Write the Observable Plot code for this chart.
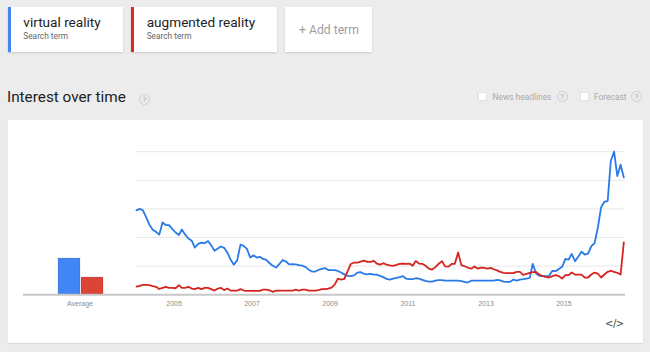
<!DOCTYPE html>
<html>
<head>
<meta charset="utf-8">
<script src="https://cdn.jsdelivr.net/npm/d3@7"></script>
<script src="https://cdn.jsdelivr.net/npm/@observablehq/plot@0.6"></script>
<style>
html,body{margin:0;padding:0;}
body{width:650px;height:352px;background:#ececec;position:relative;overflow:hidden;font-family:Roboto,Arial,sans-serif;}
.card{position:absolute;top:7px;height:45px;background:#fff;box-shadow:0 1px 2px rgba(0,0,0,.14);}
.strip{position:absolute;left:0;top:0;width:3px;height:100%;}
.term{position:absolute;font-size:13.6px;line-height:1;color:#222;white-space:nowrap;top:9.3px;}
.sub{position:absolute;font-size:8.3px;line-height:1;color:#666;white-space:nowrap;top:24.7px;}
.add{position:absolute;left:14px;top:17px;font-size:12.2px;line-height:1;color:#9e9e9e;white-space:nowrap;}
.title{position:absolute;left:7px;top:90px;font-size:15.3px;line-height:1;color:#222;white-space:nowrap;}
.help{position:absolute;width:9px;height:9px;border:1px solid #d0d0d0;border-radius:50%;font-size:6.5px;line-height:9px;text-align:center;color:#a0a0a0;font-family:Arial,sans-serif;}
.chk{position:absolute;width:9px;height:9px;background:#fff;border:1px solid #e2e2e2;box-sizing:border-box;}
.opt{position:absolute;font-size:8.4px;line-height:1;color:#aaa;white-space:nowrap;top:92.5px;}
.panel{position:absolute;left:8px;top:120px;width:635px;height:223px;background:#fff;box-shadow:0 1px 1px rgba(0,0,0,.08);}
.plotbox{position:absolute;top:132px;}
.embed{position:absolute;left:605px;top:319px;font-size:10px;line-height:1;color:#444;font-family:'DejaVu Sans',sans-serif;letter-spacing:-0.5px;}
</style>
</head>
<body>
<div class="card" style="left:8px;width:115px;"><div class="strip" style="background:#4285f4"></div><div class="term" style="left:15.3px">virtual reality</div><div class="sub" style="left:15.3px">Search term</div></div>
<div class="card" style="left:131px;width:146px;"><div class="strip" style="background:#db2b1f"></div><div class="term" style="left:15.7px">augmented reality</div><div class="sub" style="left:15.7px">Search term</div></div>
<div class="card" style="left:285px;width:87px;"><div class="add">+ Add term</div></div>

<div class="title">Interest over time</div>
<div class="help" style="left:139px;top:93.5px;">?</div>
<div class="chk" style="left:478px;top:91.5px;"></div>
<div class="opt" style="left:492.5px;">News headlines</div>
<div class="help" style="left:556.5px;top:91px;">?</div>
<div class="chk" style="left:579.5px;top:91.5px;"></div>
<div class="opt" style="left:594px;">Forecast</div>
<div class="help" style="left:631px;top:91px;">?</div>

<div class="panel"></div>
<div class="plotbox" id="avg" style="left:23px;"></div>
<div class="plotbox" id="trend" style="left:130px;"></div>
<div class="embed">&lt;/&gt;</div>

<script>
// ---- data ----
const terms = ["virtual reality", "augmented reality"];
const lineColors = ["#2a7ae6", "#d52420"];
const barColors = ["#4285f4", "#db4437"];
const startYear = 2004;            // first month: January 2004, monthly points
const virtualReality = [
  59, 60, 59, 54, 49, 45.5, 44, 42, 50.5, 48.7, 48.7, 46,
  43.5, 41.7, 45.6, 42, 39.3, 37.8, 33, 35.6, 36.4, 36, 37.5, 34.5,
  30.7, 32.3, 33.7, 32.8, 29.5, 24.5, 21, 24, 35, 34.2, 32, 26,
  27.5, 26, 26.5, 25, 24.3, 22, 20.3, 19, 21.5, 24.3, 23.2, 21.2,
  21.4, 21.2, 20.7, 20.3, 19.5, 17.5, 16.2, 16.2, 17.3, 18, 18.6, 17.2,
  17.2, 17.2, 16.6, 15.5, 14.2, 13.2, 13, 13.5, 15.5, 15.8, 14.6, 14.2,
  14.6, 14, 14, 13.2, 12.3, 11, 10.6, 11.2, 11.8, 12.3, 13, 11.2,
  10.9, 10.9, 11.5, 11.2, 10.4, 9.6, 9.2, 9.2, 9.8, 10.2, 10.2, 9.9,
  9.9, 9.9, 9.9, 9.9, 9.5, 9, 8.5, 9.8, 9.9, 9.9, 9.9, 9.9,
  9.9, 9.9, 9.9, 10.4, 10, 9.2, 9, 9, 10.6, 9.9, 10.6, 10.9,
  11.3, 11.8, 21.6, 14.8, 13.2, 13.2, 13, 13.2, 16.7, 16.5, 17.9, 19.5,
  25, 24.6, 28.5, 23.5, 26.5, 30, 28.1, 28.8, 34, 36, 47, 61,
  65, 65.5, 93.5, 100, 83, 91, 82
];
const augmentedReality = [
  5.7, 6.2, 6.9, 6.9, 6.7, 6, 5.5, 4, 4.8, 5.5, 4.8, 4.8,
  4.5, 6.7, 4.8, 4.8, 5.5, 4.3, 3.9, 4.8, 3.9, 4.8, 4.8, 3.9,
  2.9, 4.3, 4.8, 3.2, 4.3, 2.9, 2.9, 2.9, 3.9, 2.9, 2.7, 2.7,
  2.7, 2.7, 2.7, 3.6, 3.6, 3.1, 2, 2.9, 2.9, 2.9, 2.9, 2.9,
  2.9, 3.6, 2.9, 3.5, 3.5, 2.9, 2.9, 2.9, 3.2, 3.9, 3.9, 4.3,
  4.9, 7.2, 11.2, 10.6, 11, 16.5, 21.5, 22.5, 22.5, 23.2, 23.9, 23,
  23, 23.7, 21.8, 21, 22, 21, 20.5, 20.2, 20.8, 21.5, 21.8, 21.5,
  21.8, 20.2, 23.5, 21.8, 21.6, 20.2, 18.3, 17.6, 19.3, 21.5, 23.5, 19.8,
  19.6, 21.5, 21.6, 29.5, 20.7, 19.9, 19, 18.2, 19.8, 18.3, 19, 18.8,
  18.3, 18.8, 17.8, 17, 16, 15.3, 15.1, 15.1, 15.1, 16, 16, 13.9,
  14.5, 15.3, 15.8, 16, 14.1, 13, 12.5, 12, 13, 13.7, 13, 11.3,
  13.7, 13.7, 15.5, 14.1, 14.1, 14.1, 12, 12, 14.1, 15.5, 14.8, 12,
  14.1, 16, 16.7, 16, 15.3, 14.1, 36.5
];
const averages = [25.3, 12];
const averageLabel = "Average";
const tickYears = [2005, 2007, 2009, 2011, 2013, 2015];
const gridValues = [20, 40, 60, 80, 100];

// ---- tables ----
const start = new Date(Date.UTC(startYear, 0, 1));
const series = [virtualReality, augmentedReality];
const rows = [];
series.forEach((vals, k) => vals.forEach((v, i) => rows.push({term: terms[k], date: d3.utcMonth.offset(start, i), value: v})));
const end = d3.utcMonth.offset(start, virtualReality.length - 1);
const avgRows = terms.map((t, k) => ({term: t, value: averages[k]}));
const tickDates = tickYears.map(y => new Date(Date.UTC(y, 0, 1)));

const H = 185, MT = 19.2, MB = 22.8;
const textStyle = {fontFamily: "'Liberation Sans', Arial, sans-serif", fontSize: "7px", background: "transparent", overflow: "visible", color: "#8c8c8c"};

// ---- averages ----
const avgPlot = Plot.plot({
  width: 113, height: H,
  marginLeft: 0, marginRight: 0, marginTop: MT, marginBottom: MB,
  style: textStyle,
  x: {type: "band", domain: terms, range: [34.3, 79.7], paddingInner: 0.06, paddingOuter: 0, axis: null},
  y: {domain: [0, 100], axis: null},
  color: {domain: terms, range: barColors},
  marks: [
    Plot.barY(avgRows, {x: "term", y: "value", fill: "term", stroke: "#000", strokeOpacity: 0.1}),
    Plot.ruleY([0], {stroke: "#c8c8c8", strokeWidth: 2}),
    Plot.text([averageLabel], {text: d => d, frameAnchor: "bottom", lineAnchor: "top", dy: 6.5, fontSize: 7, fill: "#8c8c8c"})
  ]
});
document.getElementById("avg").appendChild(avgPlot);

// ---- interest over time ----
const trendPlot = Plot.plot({
  width: 500, height: H,
  marginLeft: 6, marginRight: 5, marginTop: MT, marginBottom: MB,
  style: textStyle,
  x: {type: "utc", domain: [start, end], range: [6, 493.3]},
  y: {domain: [0, 100], axis: null},
  color: {domain: terms, range: lineColors},
  marks: [
    Plot.ruleY(gridValues, {stroke: "#e8e8e8"}),
    Plot.ruleY([0], {stroke: "#c8c8c8", strokeWidth: 2}),
    Plot.line(rows, {x: "date", y: "value", stroke: "term", strokeWidth: 1.8}),
    Plot.axisX({ticks: tickDates, tickSize: 0, tickPadding: 6.5, tickFormat: "%Y", fontSize: 7, fill: "#8c8c8c", dx: -1.5})
  ]
});
document.getElementById("trend").appendChild(trendPlot);
</script>
</body>
</html>
